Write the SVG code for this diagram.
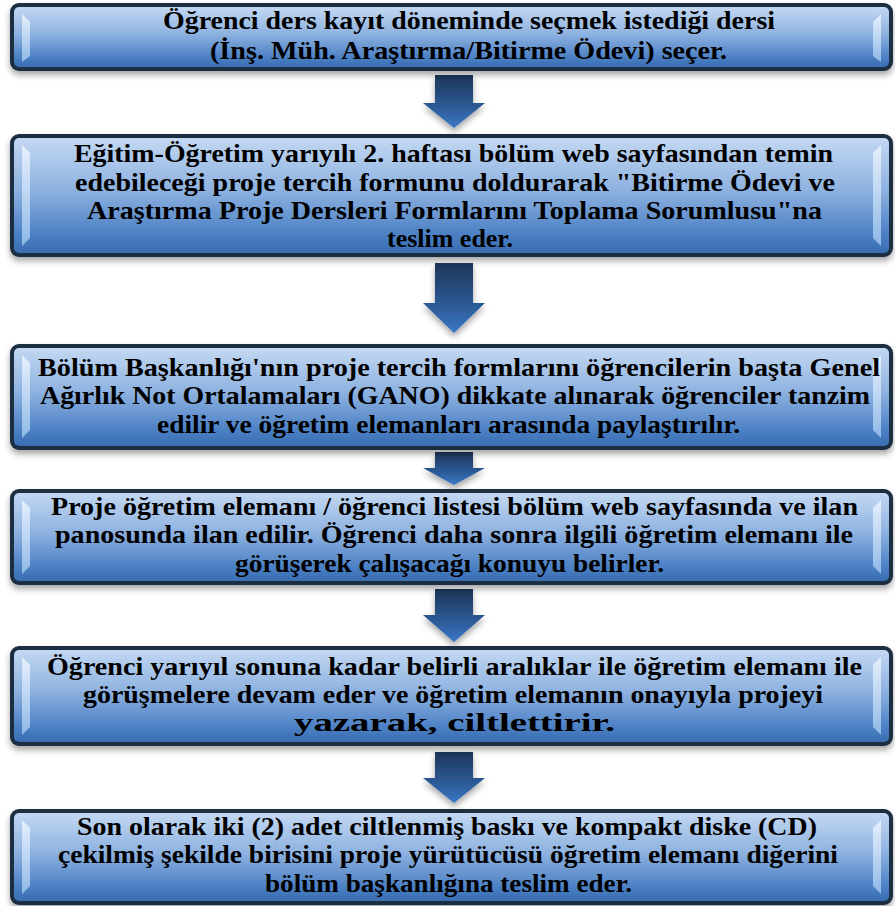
<svg xmlns="http://www.w3.org/2000/svg" width="895" height="906" viewBox="0 0 895 906">
<defs>
<linearGradient id="boxFill" x1="0" y1="0" x2="0" y2="1">
<stop offset="0" stop-color="#c3d8f2"/>
<stop offset="0.45" stop-color="#8eb2e0"/>
<stop offset="0.85" stop-color="#4a7fc4"/>
<stop offset="1" stop-color="#3a6db2"/>
</linearGradient>
<linearGradient id="bevelL" x1="0" y1="0" x2="0" y2="1">
<stop offset="0" stop-color="#eef5ff"/>
<stop offset="1" stop-color="#9cc4ee"/>
</linearGradient>
<linearGradient id="arrowFill" x1="0" y1="0" x2="0" y2="1">
<stop offset="0" stop-color="#1d3558"/>
<stop offset="0.6" stop-color="#2c5a96"/>
<stop offset="1" stop-color="#3a78c6"/>
</linearGradient>
<filter id="shadow" x="-5%" y="-20%" width="110%" height="150%">
<feDropShadow dx="0" dy="4" stdDeviation="3" flood-color="#000" flood-opacity="0.35"/>
</filter>
</defs>
<style>
.frame{fill:#1e2d42;}
.inner{fill:url(#boxFill);}
.bev{fill:url(#bevelL);opacity:0.85;}
.t{font-weight:bold;font-size:25px;fill:#000;}
.arrow{fill:url(#arrowFill);filter:url(#shadow);}
</style>

<g id="connectors">
<polygon class="arrow" points="435,75 473,75 473,103 485,103 454,128 423,103 435,103"/>
<polygon class="arrow" points="435,263 473,263 473,303 485,303 454,333 423,303 435,303"/>
<polygon class="arrow" points="435,452 473,452 473,468 485,468 454,485 423,468 435,468"/>
<polygon class="arrow" points="435,589 473,589 473,615 485,615 454,642 423,615 435,615"/>
<polygon class="arrow" points="435,752 473,752 473,778 485,778 454,803 423,778 435,778"/>
</g>

<g font-family="Liberation Serif, DejaVu Serif, serif">
<g id="node1">
<rect class="frame" x="10" y="3" width="883" height="68" rx="9" filter="url(#shadow)"/>
<rect class="inner" x="14" y="7" width="875" height="60" rx="5"/>
<polygon class="bev" points="22,14 30,22 30,56 22,62"/>
<polygon class="bev" points="881,14 873,22 873,56 881,62"/>
<text class="t" x="163" y="29" textLength="612" lengthAdjust="spacingAndGlyphs">Öğrenci ders kayıt döneminde seçmek istediği dersi</text>
<text class="t" x="210" y="59" textLength="517" lengthAdjust="spacingAndGlyphs">(İnş. Müh. Araştırma/Bitirme Ödevi) seçer.</text>
</g>

<g id="node2">
<rect class="frame" x="10" y="134" width="883" height="123" rx="9" filter="url(#shadow)"/>
<rect class="inner" x="14" y="138" width="875" height="115" rx="5"/>
<polygon class="bev" points="22,145 30,153 30,238 22,246"/>
<polygon class="bev" points="881,145 873,153 873,238 881,246"/>
<text class="t" x="74" y="162" textLength="759" lengthAdjust="spacingAndGlyphs">Eğitim-Öğretim yarıyılı 2. haftası bölüm web sayfasından temin</text>
<text class="t" x="75" y="191" textLength="760" lengthAdjust="spacingAndGlyphs">edebileceği proje tercih formunu doldurarak "Bitirme Ödevi ve</text>
<text class="t" x="87" y="219" textLength="735" lengthAdjust="spacingAndGlyphs">Araştırma Proje Dersleri Formlarını Toplama Sorumlusu"na</text>
<text class="t" x="387" y="247" textLength="126" lengthAdjust="spacingAndGlyphs">teslim eder.</text>
</g>

<g id="node3">
<rect class="frame" x="10" y="344" width="883" height="106" rx="9" filter="url(#shadow)"/>
<rect class="inner" x="14" y="348" width="875" height="98" rx="5"/>
<polygon class="bev" points="22,355 30,363 30,430 22,438"/>
<polygon class="bev" points="881,355 873,363 873,430 881,438"/>
<text class="t" x="38" y="376" textLength="842" lengthAdjust="spacingAndGlyphs">Bölüm Başkanlığı'nın proje tercih formlarını öğrencilerin başta Genel</text>
<text class="t" x="40" y="404" textLength="830" lengthAdjust="spacingAndGlyphs">Ağırlık Not Ortalamaları (GANO) dikkate alınarak öğrenciler tanzim</text>
<text class="t" x="157" y="433" textLength="583" lengthAdjust="spacingAndGlyphs">edilir ve öğretim elemanları arasında paylaştırılır.</text>
</g>

<g id="node4">
<rect class="frame" x="10" y="489" width="883" height="96" rx="9" filter="url(#shadow)"/>
<rect class="inner" x="14" y="493" width="875" height="88" rx="5"/>
<polygon class="bev" points="22,500 30,508 30,566 22,574"/>
<polygon class="bev" points="881,500 873,508 873,566 881,574"/>
<text class="t" x="51" y="515" textLength="807" lengthAdjust="spacingAndGlyphs">Proje öğretim elemanı / öğrenci listesi bölüm web sayfasında ve ilan</text>
<text class="t" x="55" y="543" textLength="798" lengthAdjust="spacingAndGlyphs">panosunda ilan edilir. Öğrenci daha sonra ilgili öğretim elemanı ile</text>
<text class="t" x="235" y="572" textLength="429" lengthAdjust="spacingAndGlyphs">görüşerek çalışacağı konuyu belirler.</text>
</g>

<g id="node5">
<rect class="frame" x="10" y="646" width="883" height="100" rx="9" filter="url(#shadow)"/>
<rect class="inner" x="14" y="650" width="875" height="92" rx="5"/>
<polygon class="bev" points="22,657 30,665 30,727 22,735"/>
<polygon class="bev" points="881,657 873,665 873,727 881,735"/>
<text class="t" x="47" y="675" textLength="815" lengthAdjust="spacingAndGlyphs">Öğrenci yarıyıl sonuna kadar belirli aralıklar ile öğretim elemanı ile</text>
<text class="t" x="83" y="703" textLength="740" lengthAdjust="spacingAndGlyphs">görüşmelere devam eder ve öğretim elemanın onayıyla projeyi</text>
<text class="t" x="294" y="731" textLength="321" lengthAdjust="spacingAndGlyphs">yazarak, ciltlettirir.</text>
</g>

<g id="node6">
<rect class="frame" x="10" y="809" width="883" height="96" rx="9" filter="url(#shadow)"/>
<rect class="inner" x="14" y="813" width="875" height="88" rx="5"/>
<polygon class="bev" points="22,820 30,828 30,886 22,894"/>
<polygon class="bev" points="881,820 873,828 873,886 881,894"/>
<text class="t" x="77" y="835" textLength="740" lengthAdjust="spacingAndGlyphs">Son olarak iki (2) adet ciltlenmiş baskı ve kompakt diske (CD)</text>
<text class="t" x="58" y="863" textLength="780" lengthAdjust="spacingAndGlyphs">çekilmiş şekilde birisini proje yürütücüsü öğretim elemanı diğerini</text>
<text class="t" x="265" y="892" textLength="367" lengthAdjust="spacingAndGlyphs">bölüm başkanlığına teslim eder.</text>
</g>
</g>
</svg>
